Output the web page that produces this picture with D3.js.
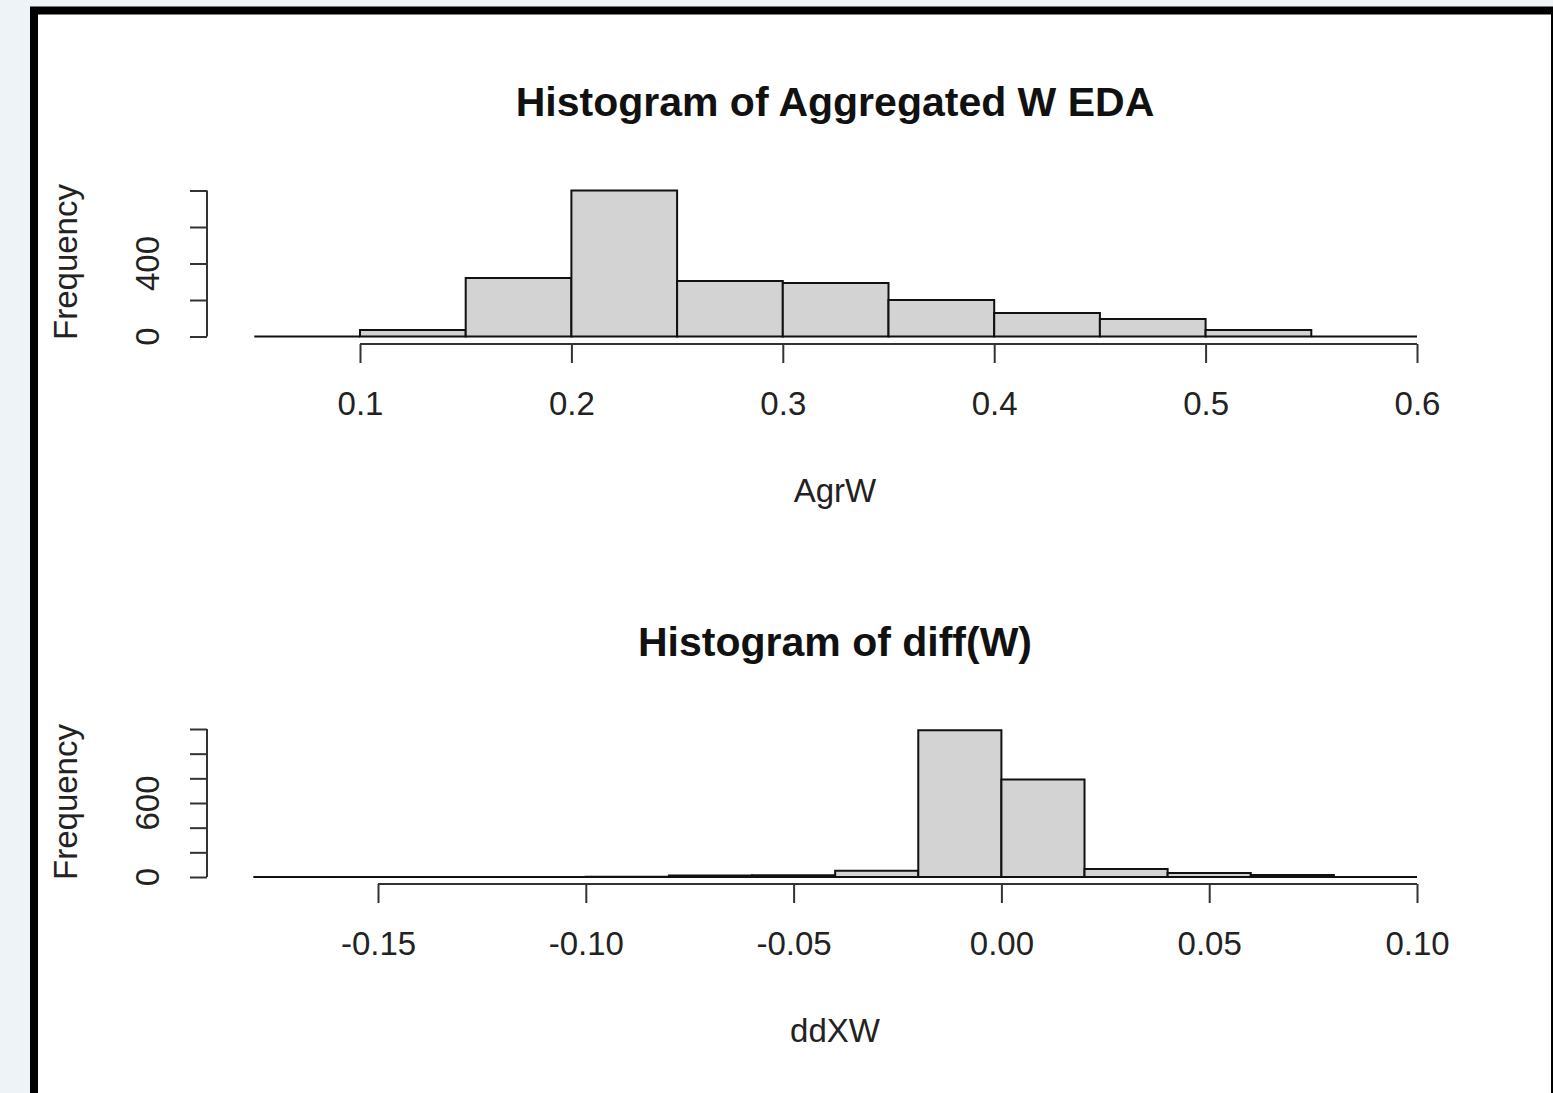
<!DOCTYPE html>
<html>
<head>
<meta charset="utf-8">
<script src="https://cdn.jsdelivr.net/npm/d3@7"></script>
<style>
  body { margin: 0; background: #eef3f8; }
  svg { display: block; font-family: "Liberation Sans", Arial, sans-serif; }
</style>
</head>
<body>
<div id="chart"></div>
<script>
// histogram data
var agr_breaks = [0.05, 0.10, 0.15, 0.20, 0.25, 0.30, 0.35, 0.40, 0.45, 0.50, 0.55, 0.60];
var agr_counts = [0, 36, 320, 800, 304, 293, 200, 129, 96, 36, 0];
var agr_xticks = [0.1, 0.2, 0.3, 0.4, 0.5, 0.6];
var agr_yticks = [0, 200, 400, 600, 800];
var agr_ylabels = [0, 400];

var diff_breaks = [-0.18, -0.16, -0.14, -0.12, -0.10, -0.08, -0.06, -0.04, -0.02, 0.00, 0.02, 0.04, 0.06, 0.08, 0.10];
var diff_counts = [0, 1, 0, 1, 2, 12, 14, 50, 1190, 790, 65, 33, 16, 0];
var diff_xticks = [-0.15, -0.10, -0.05, 0.00, 0.05, 0.10];
var diff_yticks = [0, 200, 400, 600, 800, 1000, 1200];
var diff_ylabels = [0, 600];

var svg_width = 1553, svg_height = 1093;

var svg = d3.select("#chart")
    .append("svg")
    .attr("width", svg_width)
    .attr("height", svg_height);

// window frame
svg.append("rect")
    .attr("x", 34).attr("y", 10.5)
    .attr("width", 1521).attr("height", 1120)
    .attr("fill", "#fff")
    .attr("stroke", "#000")
    .attr("stroke-width", 8);

// R prints a plain hyphen for negatives
function rfmt(digits) {
    var f = d3.format("." + digits + "f");
    return d => f(d).replace("\u2212", "-");
}

function drawHist(opts) {
    var bins = opts.counts.map((c, i) => ({ x0: opts.breaks[i], x1: opts.breaks[i + 1], n: c }));

    var x = d3.scaleLinear().domain(opts.xdom).range(opts.xrange);
    var y = d3.scaleLinear().domain(opts.ydom).range(opts.yrange);

    var g = svg.append("g");

    // bars as paths so empty bins still show as a line on the baseline
    g.selectAll("path.bar")
        .data(bins)
        .enter()
        .append("path")
        .attr("class", "bar")
        .attr("d", d => `M${x(d.x0)},${y(0)}V${y(d.n)}H${x(d.x1)}V${y(0)}Z`)
        .attr("fill", "#d3d3d3")
        .attr("stroke", "#111")
        .attr("stroke-width", 2);

    // x axis (R style: line spans first to last tick)
    var xaxis = g.append("g")
        .attr("transform", `translate(0, ${opts.xaxisY})`)
        .call(d3.axisBottom(x).tickValues(opts.xticks).tickSize(19).tickSizeOuter(0).tickFormat(opts.xfmt).tickPadding(29));
    xaxis.select(".domain").remove();
    xaxis.append("line")
        .attr("x1", x(opts.xticks[0])).attr("x2", x(opts.xticks[opts.xticks.length - 1]))
        .attr("stroke", "#333").attr("stroke-width", 2);
    xaxis.selectAll(".tick line").attr("stroke", "#333").attr("stroke-width", 2);
    xaxis.selectAll(".tick text").attr("font-size", 33).attr("fill", "#222")
        .attr("font-family", "Liberation Sans, Arial, sans-serif");

    // y axis
    var yaxis = g.append("g")
        .attr("transform", `translate(${opts.yaxisX}, 0)`)
        .call(d3.axisLeft(y).tickValues(opts.yticks).tickSize(17).tickSizeOuter(0).tickFormat(""));
    yaxis.select(".domain").remove();
    yaxis.append("line")
        .attr("y1", y(opts.yticks[0])).attr("y2", y(opts.yticks[opts.yticks.length - 1]))
        .attr("stroke", "#333").attr("stroke-width", 2);
    yaxis.selectAll(".tick line").attr("stroke", "#333").attr("stroke-width", 2);

    g.selectAll("text.ylab")
        .data(opts.ylabels)
        .enter()
        .append("text")
        .attr("class", "ylab")
        .attr("transform", d => `translate(${opts.yaxisX - 48}, ${y(d)}) rotate(-90)`)
        .attr("text-anchor", "middle")
        .attr("font-size", 33)
        .attr("fill", "#222")
        .text(d => d);

    // title and axis labels
    g.append("text")
        .attr("x", 835).attr("y", opts.titleY)
        .attr("text-anchor", "middle")
        .attr("font-size", 41).attr("font-weight", "bold")
        .attr("fill", "#111")
        .text(opts.title);

    g.append("text")
        .attr("x", 835).attr("y", opts.xlabY)
        .attr("text-anchor", "middle")
        .attr("font-size", 33).attr("fill", "#222")
        .text(opts.xlab);

    g.append("text")
        .attr("transform", `translate(77, ${opts.ylabMid}) rotate(-90)`)
        .attr("text-anchor", "middle")
        .attr("font-size", 33).attr("fill", "#222")
        .text("Frequency");
}

drawHist({
    breaks: agr_breaks, counts: agr_counts,
    xticks: agr_xticks, yticks: agr_yticks, ylabels: agr_ylabels,
    xdom: [0.1, 0.6], xrange: [360, 1417],
    ydom: [0, 800], yrange: [336.5, 190.5],
    xaxisY: 344, yaxisX: 207,
    xfmt: rfmt(1),
    title: "Histogram of Aggregated W EDA", titleY: 116,
    xlab: "AgrW", xlabY: 502, ylabMid: 262
});

drawHist({
    breaks: diff_breaks, counts: diff_counts,
    xticks: diff_xticks, yticks: diff_yticks, ylabels: diff_ylabels,
    xdom: [-0.15, 0.10], xrange: [378, 1417],
    ydom: [0, 1200], yrange: [877, 729],
    xaxisY: 884, yaxisX: 207,
    xfmt: rfmt(2),
    title: "Histogram of diff(W)", titleY: 656,
    xlab: "ddXW", xlabY: 1042, ylabMid: 802
});
</script>
</body>
</html>
